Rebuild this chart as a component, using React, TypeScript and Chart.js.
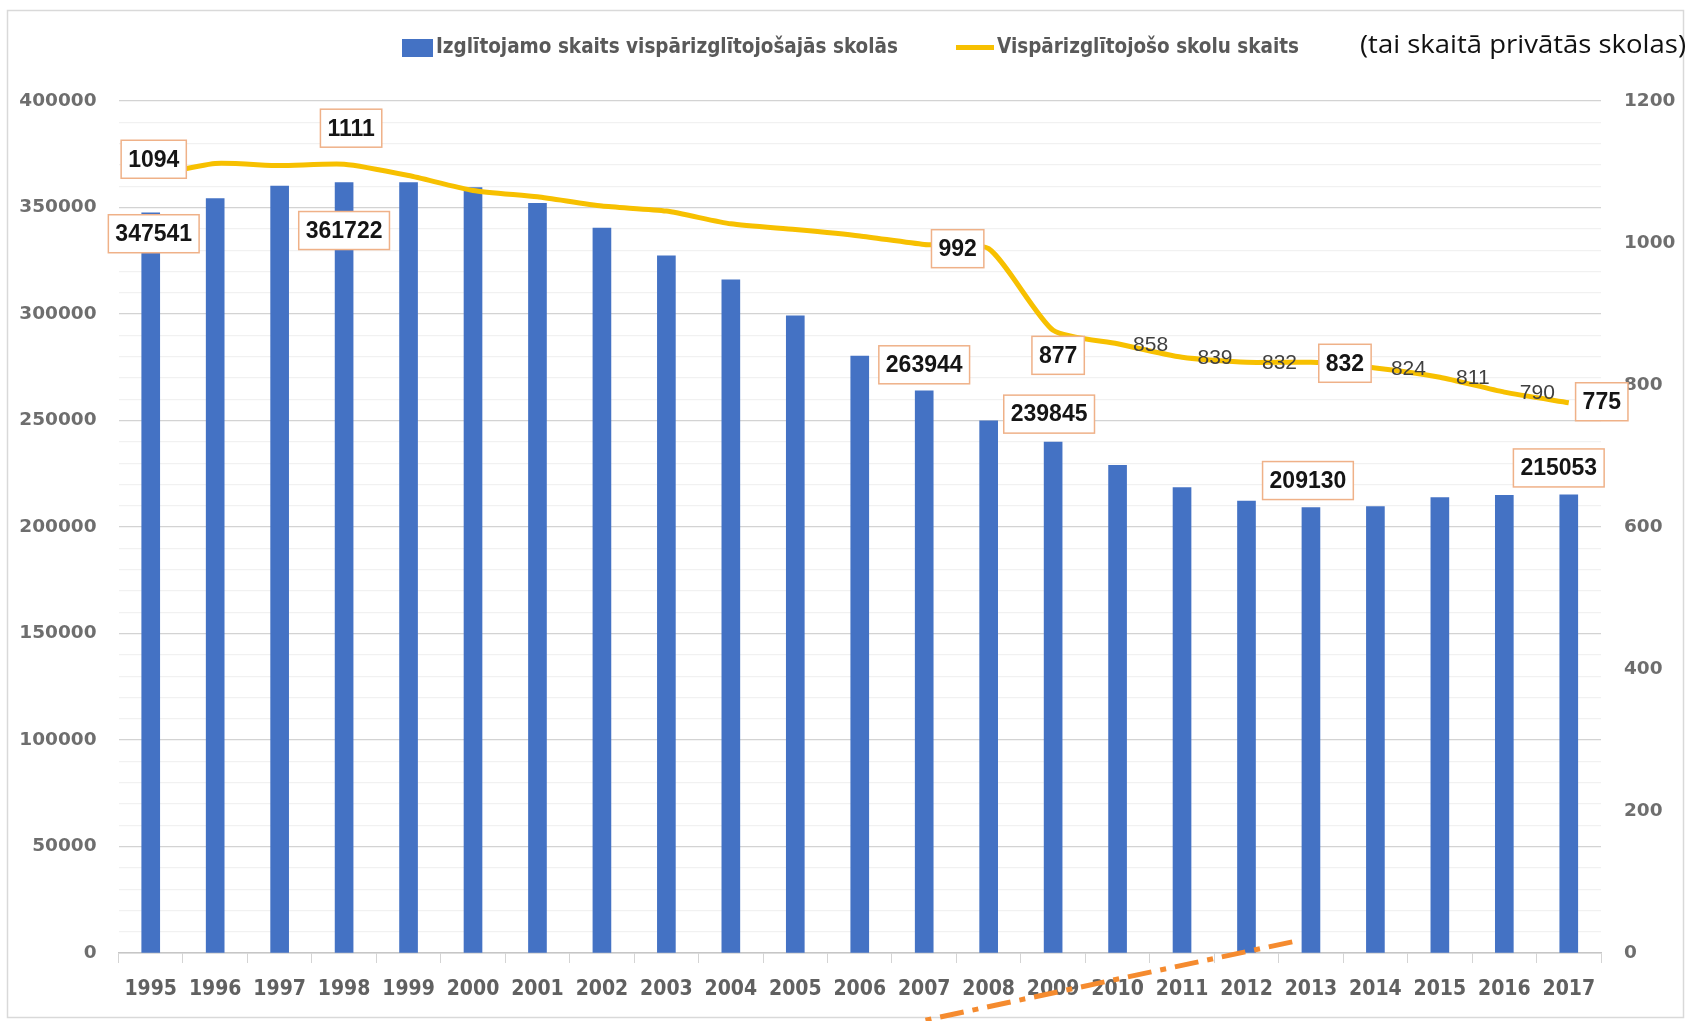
import React, { useEffect, useRef } from "react";
import { Chart, registerables } from "chart.js";

Chart.register(...registerables);

// ---------- data ----------
const years = [
  "1995", "1996", "1997", "1998", "1999", "2000", "2001", "2002", "2003", "2004", "2005", "2006",
  "2007", "2008", "2009", "2010", "2011", "2012", "2013", "2014", "2015", "2016", "2017",
];
const students = [
  347541, 354200, 360100, 361722, 361700, 359300, 352000, 340300, 327300, 316000, 299100, 280300,
  263944, 249800, 239845, 229000, 218500, 212200, 209130, 209600, 213800, 214900, 215053,
];
const schools = [
  1094, 1112, 1109, 1111, 1095, 1074, 1065, 1052, 1045, 1027, 1019, 1010,
  998, 992, 877, 858, 839, 832, 832, 824, 811, 790, 775,
];
const studentsAxisMax = 400000;
const studentsAxisStep = 50000;
const studentsMinorStep = 10000;
const schoolsAxisMax = 1200;
const schoolsAxisStep = 200;

const studentsLabel = "Izglītojamo skaits vispārizglītojošajās skolās";
const schoolsLabel = "Vispārizglītojošo skolu skaits";
const noteText = "(tai skaitā privātās skolas)";

// which values carry labels
const boxedStudentYears = ["1995", "1998", "2007", "2009", "2013", "2017"];
const boxedSchoolYears = ["1995", "1998", "2008", "2009", "2013", "2017"];
const plainSchoolYears = ["2010", "2011", "2012", "2014", "2015", "2016"];

// annotation stroke (in data units: category index, students value)
const strokeFrom = [11.93, -32080];
const strokeTo = [17.71, 5220];

// ---------- layout (pixel offsets of labels from their points) ----------
const studentBoxOffset: Record<string, [number, number]> = {
  "1995": [3, 21],
  "1998": [0, 48],
  "2007": [0, -26],
  "2009": [-4, -28],
  "2013": [-3, -27],
  "2017": [-10, -27],
};
const schoolBoxOffset: Record<string, [number, number]> = {
  "1995": [3, -17],
  "1998": [7, -36],
  "2008": [-31, 0],
  "2009": [5, 25],
  "2013": [34, 1],
  "2017": [33, -1],
};
const plainOffsetX = 33;

const BLUE = "#4472C4";
const GOLD = "#F7C000";
const BOX_BORDER = "#EFB188";

function drawScaledText(
  ctx: CanvasRenderingContext2D,
  text: string,
  font: string,
  color: string,
  left: number,
  right: number,
  cy: number
) {
  ctx.save();
  ctx.font = font;
  ctx.fillStyle = color;
  ctx.textBaseline = "middle";
  ctx.textAlign = "left";
  const w = ctx.measureText(text).width;
  const sx = (right - left) / w;
  ctx.translate(left, cy);
  ctx.scale(sx, 1);
  ctx.fillText(text, 0, 0);
  ctx.restore();
}

function drawBox(ctx: CanvasRenderingContext2D, text: string, cx: number, cy: number) {
  ctx.save();
  ctx.font = 'bold 23px "Liberation Sans", Arial, sans-serif';
  const tw = ctx.measureText(text).width;
  const w = tw + 14;
  const h = 38;
  ctx.fillStyle = "#ffffff";
  ctx.fillRect(cx - w / 2, cy - h / 2, w, h);
  ctx.strokeStyle = BOX_BORDER;
  ctx.lineWidth = 1.5;
  ctx.strokeRect(cx - w / 2, cy - h / 2, w, h);
  ctx.fillStyle = "#151515";
  ctx.textAlign = "center";
  ctx.textBaseline = "middle";
  ctx.fillText(text, cx, cy + 1);
  ctx.restore();
}

const decorPlugin = {
  id: "decor",
  beforeDraw(chart: any) {
    const ctx: CanvasRenderingContext2D = chart.ctx;
    ctx.save();
    ctx.fillStyle = "#ffffff";
    ctx.fillRect(0, 0, chart.width, chart.height);
    ctx.strokeStyle = "#d9d9d9";
    ctx.lineWidth = 1.5;
    ctx.strokeRect(7.5, 10.5, 1676, 1007);
    ctx.restore();
  },
  afterDatasetsDraw(chart: any) {
    const ctx: CanvasRenderingContext2D = chart.ctx;
    const xs = chart.scales.x;
    const yl = chart.scales.y;
    const yr = chart.scales.y1;

    boxedStudentYears.forEach((yr0) => {
      const i = years.indexOf(yr0);
      const [dx, dy] = studentBoxOffset[yr0] || [0, -26];
      const px = xs.getPixelForValue(i);
      const py = yl.getPixelForValue(students[i]);
      drawBox(ctx, String(students[i]), px + dx, py + dy);
    });

    plainSchoolYears.forEach((yr0) => {
      const i = years.indexOf(yr0);
      const px = xs.getPixelForValue(i);
      const py = yr.getPixelForValue(schools[i]);
      ctx.save();
      ctx.font = '21px "Liberation Sans", Arial, sans-serif';
      ctx.fillStyle = "#404040";
      ctx.textAlign = "center";
      ctx.textBaseline = "middle";
      ctx.fillText(String(schools[i]), px + plainOffsetX, py + 1);
      ctx.restore();
    });

    boxedSchoolYears.forEach((yr0) => {
      const i = years.indexOf(yr0);
      const [dx, dy] = schoolBoxOffset[yr0] || [0, -26];
      const px = xs.getPixelForValue(i);
      const py = yr.getPixelForValue(schools[i]);
      drawBox(ctx, String(schools[i]), px + dx, py + dy);
    });
  },
  afterDraw(chart: any) {
    const ctx: CanvasRenderingContext2D = chart.ctx;
    const xs = chart.scales.x;
    const yl = chart.scales.y;

    // legend
    ctx.save();
    ctx.fillStyle = BLUE;
    ctx.fillRect(402, 39, 31, 18);
    ctx.strokeStyle = GOLD;
    ctx.lineWidth = 5;
    ctx.beginPath();
    ctx.moveTo(956, 47.5);
    ctx.lineTo(994, 47.5);
    ctx.stroke();
    ctx.restore();
    const legendFont = 'bold 22px "Liberation Sans Narrow", "DejaVu Sans Condensed", "Liberation Sans", sans-serif';
    drawScaledText(ctx, studentsLabel, legendFont, "#595959", 436, 898, 47);
    drawScaledText(ctx, schoolsLabel, legendFont, "#595959", 997, 1299, 47);
    drawScaledText(ctx, noteText, '25px "Open Sans", "Noto Sans", sans-serif', "#111111", 1360, 1686, 46);

    // dash-dot annotation stroke
    const x0 = xs.getPixelForValue(strokeFrom[0]);
    const y0 = yl.getPixelForValue(strokeFrom[1]);
    const x1 = xs.getPixelForValue(strokeTo[0]);
    const y1 = yl.getPixelForValue(strokeTo[1]);
    ctx.save();
    ctx.strokeStyle = "#F58B2F";
    ctx.lineWidth = 5;
    ctx.setLineDash([24, 9, 6, 9]);
    ctx.beginPath();
    ctx.moveTo(x1, y1);
    ctx.lineTo(x0, y0);
    ctx.stroke();
    ctx.restore();
  },
};

export default function App() {
  const ref = useRef<HTMLCanvasElement | null>(null);

  useEffect(() => {
    if (!ref.current) return;
    const chart = new Chart(ref.current, {
      type: "bar",
      data: {
        labels: years,
        datasets: [
          {
            type: "line",
            label: schoolsLabel,
            data: schools,
            yAxisID: "y1",
            borderColor: GOLD,
            backgroundColor: GOLD,
            borderWidth: 5,
            pointRadius: 0,
            tension: 0.2,
            order: 0,
          } as any,
          {
            type: "bar",
            label: studentsLabel,
            data: students,
            yAxisID: "y",
            backgroundColor: BLUE,
            barThickness: 18,
            order: 1,
          },
        ],
      },
      options: {
        animation: false,
        responsive: false,
        devicePixelRatio: 1,
        layout: { padding: { top: 101, left: 0, right: 0, bottom: 0 } },
        plugins: {
          legend: { display: false },
          tooltip: { enabled: false },
          title: { display: false },
        },
        scales: {
          x: {
            afterFit: (s: any) => {
              s.height = 68;
            },
            border: { display: true, color: "#c6c6c6", width: 1.5 },
            grid: {
              offset: true,
              drawOnChartArea: false,
              drawTicks: true,
              tickLength: 10,
              color: "#d4d4d4",
            },
            ticks: {
              autoSkip: false,
              maxRotation: 0,
              padding: 14,
              color: "#616161",
              font: {
                family: '"Liberation Sans Narrow", "DejaVu Sans Condensed", sans-serif',
                size: 21,
                weight: "bold",
              },
            },
          },
          y: {
            position: "left",
            min: 0,
            max: studentsAxisMax,
            afterFit: (s: any) => {
              s.width = 118.5;
            },
            border: { display: false },
            grid: {
              drawTicks: false,
              color: (c: any) =>
                c.tick && c.tick.value % studentsAxisStep === 0 ? "#d3d3d3" : "#f1f1f1",
              lineWidth: 1.2,
            },
            ticks: {
              stepSize: studentsMinorStep,
              maxTicksLimit: 100,
              autoSkip: false,
              padding: 22,
              color: "#6e6e6e",
              font: { family: '"DejaVu Sans", sans-serif', size: 18.5, weight: "bold" },
              callback: (v: any) => (Number(v) % studentsAxisStep === 0 ? String(v) : ""),
            },
          },
          y1: {
            position: "right",
            min: 0,
            max: schoolsAxisMax,
            afterFit: (s: any) => {
              s.width = 89;
            },
            border: { display: false },
            grid: { drawOnChartArea: false, drawTicks: false },
            ticks: {
              stepSize: schoolsAxisStep,
              padding: 23,
              color: "#6e6e6e",
              font: { family: '"DejaVu Sans", sans-serif', size: 18.5, weight: "bold" },
              callback: (v: any) => String(v),
            },
          },
        },
      },
      plugins: [decorPlugin],
    });
    return () => chart.destroy();
  }, []);

  return (
    <div style={{ position: "absolute", left: 0, top: 0, width: 1690, height: 1021, background: "#fff" }}>
      <canvas ref={ref} width={1690} height={1021} style={{ display: "block" }} />
    </div>
  );
}
